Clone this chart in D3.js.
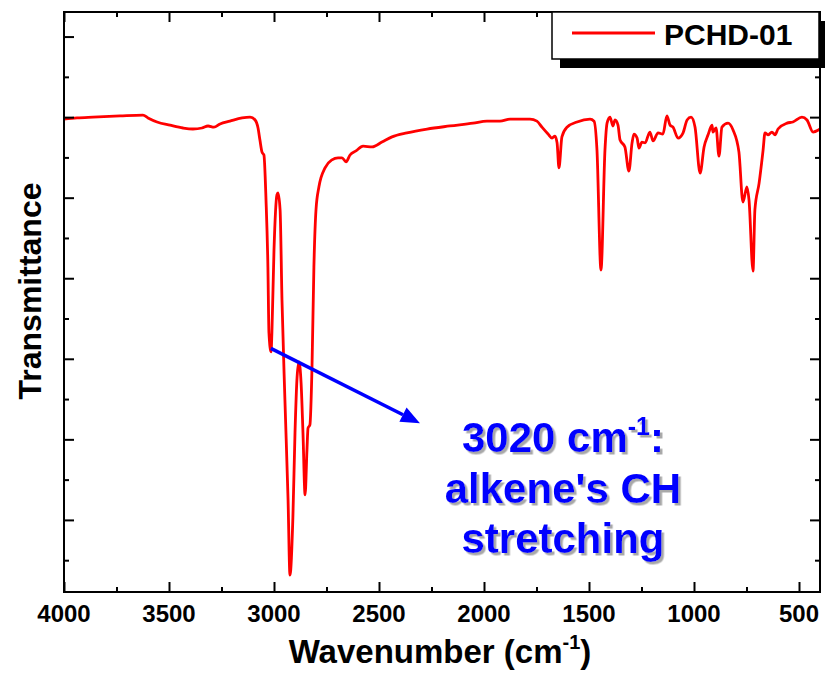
<!DOCTYPE html>
<html>
<head>
<meta charset="utf-8">
<script src="https://cdn.jsdelivr.net/npm/d3@7"></script>
<style>
  html, body { margin: 0; padding: 0; background: #fff; }
  svg { display: block; }
  text { font-family: "Liberation Sans", Arial, sans-serif; font-weight: bold; }
</style>
</head>
<body>
<svg id="chart" width="825" height="674"></svg>
<script>
// ---------- data ----------
const seriesName = "PCHD-01";
const wavenumber = [4000,3938,3862,3733,3624,3600,3557,3495,3433,3386,3343,3314,3286,3257,3210,3152,3114,3090,3076,3067,3057,3048,3038,3029,3024,3014,3010,3000,2986,2981,2971,2962,2948,2933,2924,2910,2900,2890,2881,2871,2862,2852,2843,2838,2829,2819,2810,2800,2786,2757,2724,2695,2676,2657,2638,2610,2576,2533,2486,2438,2367,2271,2162,2052,1986,1924,1876,1781,1748,1724,1695,1676,1662,1652,1643,1629,1605,1557,1495,1476,1462,1443,1424,1414,1400,1386,1376,1362,1352,1329,1310,1295,1286,1271,1262,1248,1233,1210,1195,1171,1148,1129,1114,1100,1076,1052,1033,1014,995,971,952,933,914,910,895,881,867,838,814,786,767,748,738,719,710,690,671,662,648,629,614,600,557,529,486,462,433,400];
const transmittance = [99.5,99.8,100.0,100.3,100.5,99.8,98.8,98.0,97.3,97.05,97.3,97.8,97.5,98.3,99.0,99.8,100.0,99.3,97.3,94.3,91.3,90.6,79.4,62.8,46.4,41.7,46.4,67.0,80.7,81.2,77.0,54.6,29.8,4.9,-13.7,0.7,21.6,35.5,39.2,34.0,21.6,6.2,17.4,22.8,23.6,38.0,62.8,77.0,82.7,87.4,89.4,89.9,89.9,88.9,90.6,91.6,92.8,92.6,93.8,95.1,96.1,97.05,97.8,98.5,99.0,99.0,99.5,99.5,99.0,97.5,95.8,94.8,95.3,93.6,87.4,95.1,97.5,98.8,99.5,99.0,91.8,62.0,91.8,98.5,100.0,97.8,99.3,98.0,94.3,92.6,86.6,93.6,95.8,94.8,92.3,93.8,93.6,96.3,94.1,96.1,95.8,100.3,98.0,97.5,94.8,96.1,99.3,100.0,97.5,86.1,92.6,95.6,98.0,96.3,97.3,90.3,97.5,98.5,96.8,91.3,78.9,82.7,79.4,61.8,77.0,83.6,91.8,96.1,95.6,96.3,95.6,97.05,98.5,98.8,100.0,99.3,96.3,97.05];

const xMajorTicks = [4000,3500,3000,2500,2000,1500,1000,500];
const xMinorTicks = [3750,3250,2750,2250,1750,1250,750];
const yMajorTicks = [120,100,80,60,40,20,0];
const yMinorTicks = [110,90,70,50,30,10,-10];

const xDomain = [4000, 400];
const yDomain = [-17.9, 126.1];

const annotationLines = ["3020 cm", "alkene's CH", "stretching"];
const annotationAnchor = [1624, 0]; // x (wavenumber) center of text
const arrowFrom = [3015, 42.6];
const arrowTo = [2305, 24.0];

// ---------- layout ----------
const svg = d3.select("#chart");
const L = 64, R = 820, T = 12, B = 592;
const x = d3.scaleLinear().domain(xDomain).range([L, R]);
const y = d3.scaleLinear().domain(yDomain).range([B, T]);

const data = wavenumber.map((w, i) => ({w, t: transmittance[i]}));

const defs = svg.append("defs");
defs.append("clipPath").attr("id", "clip").append("rect")
  .attr("x", L).attr("y", T).attr("width", R - L).attr("height", B - T);
const f = defs.append("filter").attr("id", "shadow")
  .attr("x", "-10%").attr("y", "-20%").attr("width", "130%").attr("height", "150%");
f.append("feDropShadow").attr("dx", 2.5).attr("dy", 2.5).attr("stdDeviation", 0.3)
  .attr("flood-color", "#a8a8a8").attr("flood-opacity", 1);

// curve
const line = d3.line().x(d => x(d.w)).y(d => y(d.t)).curve(d3.curveMonotoneX);
svg.append("path").datum(data)
  .attr("clip-path", "url(#clip)")
  .attr("d", line)
  .attr("fill", "none")
  .attr("stroke", "#ff0000")
  .attr("stroke-width", 2.8)
  .attr("stroke-linejoin", "round");

// axes (ticks inward)
const MAJ = 10, MIN = 5;
function addAxis(axisGen, transform) {
  const g = svg.append("g").attr("transform", transform).call(axisGen);
  g.select(".domain").remove();
  g.selectAll(".tick line").attr("stroke", "#000").attr("stroke-width", 2);
  g.selectAll("text").remove();
  return g;
}
addAxis(d3.axisBottom(x).tickValues(xMajorTicks).tickSize(-MAJ), `translate(0,${B})`);
addAxis(d3.axisBottom(x).tickValues(xMinorTicks).tickSize(-MIN), `translate(0,${B})`);
addAxis(d3.axisTop(x).tickValues(xMajorTicks).tickSize(-MAJ), `translate(0,${T})`);
addAxis(d3.axisTop(x).tickValues(xMinorTicks).tickSize(-MIN), `translate(0,${T})`);
addAxis(d3.axisLeft(y).tickValues(yMajorTicks).tickSize(-MAJ), `translate(${L},0)`);
addAxis(d3.axisLeft(y).tickValues(yMinorTicks).tickSize(-MIN), `translate(${L},0)`);
addAxis(d3.axisRight(y).tickValues(yMajorTicks).tickSize(-MAJ), `translate(${R},0)`);
addAxis(d3.axisRight(y).tickValues(yMinorTicks).tickSize(-MIN), `translate(${R},0)`);

// frame
svg.append("rect").attr("x", L).attr("y", T).attr("width", R - L).attr("height", B - T)
  .attr("fill", "none").attr("stroke", "#000").attr("stroke-width", 2);

// x tick labels
svg.append("g").selectAll("text").data(xMajorTicks).join("text")
  .attr("x", d => x(d)).attr("y", 622)
  .attr("text-anchor", "middle").attr("font-size", 24)
  .text(d => d);

// axis titles
const xt = svg.append("text").attr("x", (L + R) / 2 - 2).attr("y", 663)
  .attr("text-anchor", "middle").attr("font-size", 33);
xt.append("tspan").text("Wavenumber (cm");
xt.append("tspan").attr("font-size", 20).attr("dy", -14).text("-1");
xt.append("tspan").attr("dy", 14).text(")");

svg.append("text").attr("transform", "translate(41,291) rotate(-90)")
  .attr("text-anchor", "middle").attr("font-size", 32).text("Transmittance");

// legend
svg.append("rect").attr("x", 560).attr("y", 21).attr("width", 267).attr("height", 47).attr("fill", "#000");
svg.append("rect").attr("x", 552).attr("y", 12).attr("width", 267).attr("height", 47)
  .attr("fill", "#fff").attr("stroke", "#000").attr("stroke-width", 1.5);
svg.append("line").attr("x1", 572).attr("x2", 655).attr("y1", 33).attr("y2", 33)
  .attr("stroke", "#ff0000").attr("stroke-width", 3);
svg.append("text").attr("x", 664).attr("y", 45).attr("font-size", 30).text(seriesName);

// arrow
const ax1 = x(arrowFrom[0]), ay1 = y(arrowFrom[1]);
const ax2 = x(arrowTo[0]), ay2 = y(arrowTo[1]);
const ang = Math.atan2(ay2 - ay1, ax2 - ax1);
const headLen = 19, headHalf = 8;
const bx = ax2 - headLen * Math.cos(ang), by = ay2 - headLen * Math.sin(ang);
svg.append("line").attr("x1", ax1).attr("y1", ay1).attr("x2", bx).attr("y2", by)
  .attr("stroke", "#0000ff").attr("stroke-width", 3.5);
svg.append("path")
  .attr("d", `M${ax2},${ay2} L${bx + headHalf * Math.sin(ang)},${by - headHalf * Math.cos(ang)} L${bx - headHalf * Math.sin(ang)},${by + headHalf * Math.cos(ang)} Z`)
  .attr("fill", "#0000ff");

// annotation text (with drop shadow)
const cx = x(annotationAnchor[0]);
const baselines = [452, 503, 553];
const g = svg.append("g").attr("fill", "#0000ff").attr("filter", "url(#shadow)");
const t1 = g.append("text").attr("x", cx).attr("y", baselines[0])
  .attr("text-anchor", "middle").attr("font-size", 42);
t1.append("tspan").text(annotationLines[0]);
t1.append("tspan").attr("font-size", 25).attr("dy", -17).text("-1");
t1.append("tspan").attr("dy", 17).text(":");
annotationLines.slice(1).forEach((s, i) => {
  g.append("text").attr("x", cx).attr("y", baselines[i + 1])
    .attr("text-anchor", "middle").attr("font-size", 42).text(s);
});
</script>
</body>
</html>
